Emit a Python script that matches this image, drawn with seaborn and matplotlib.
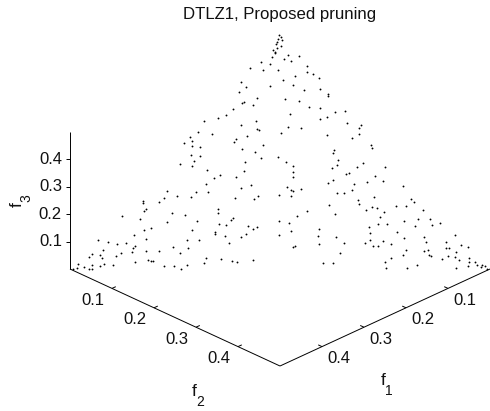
import numpy as np
import pandas as pd
import matplotlib
matplotlib.use('Agg')
import matplotlib.pyplot as plt
import seaborn as sns

f2_minus_f1 = [
    -.002, -.005, -.008, -.010, -.007, -.016, -.011, -.020, -.023, -.045, -.040, -.071, -.005, -.092, -.080, -.098,
    -.024, -.055, -.086, -.091, -.065, -.113, -.129, -.148, -.182, -.056, -.093, -.055, -.051, -.195, -.163, -.079,
    -.215, -.105,
    .002, .005, .002, -.011, .010, .020, .026, .045, .065, .065, .078, .093, .036, .007, .031, .058, .095, .114, .114,
    .012, .045, .070, .095, .024, .130, .154, .112, .095, .160, .192, .189, .020, .050, .002, .189, .113, .171,
    -.110, -.209, -.229, -.209, -.190, -.090, -.212, -.190, -.205, -.238, -.209, -.083, -.173, -.085, -.105, -.144,
    -.157, -.177, -.092, -.268, -.201, -.172, -.275, -.246, -.212, -.107, -.289, -.327, -.327, -.320, -.323, -.148,
    -.148, -.257, -.226, -.375, -.334, -.270, -.197, -.111, -.117, -.145, -.128, -.077, -.308, -.323, -.210, -.155,
    -.155, -.081, -.348, -.131, -.093, -.433, -.320, -.221, -.194, -.410, -.389, -.366, -.122, -.345, -.349, -.254,
    -.220, -.421, -.353, -.320, -.289, -.379, -.237, -.448, -.429, -.390, -.455, -.425, -.176, -.140, -.314, -.308,
    -.303, -.115, -.103, -.346, -.180, -.482, -.420, -.448, -.429, -.397, -.275, -.252, -.221, -.467, -.483, -.454,
    -.447, -.235, -.494,
    -.040, .217, .219, -.060, .129, .126, -.045, -.005, .138, .014, .136, .198, .032, .124, .184, .250, .031, .157,
    .164, .032, .226, .127, -.068, .115, .207, .245, .177, .293, .017, .027, .030, .050, .171, .136, .152, -.002,
    .027, -.052, -.061, .224, .312, .186, .319, .187, .117, .277, .300, .218, .231, .205, .340, .064, .248, .132,
    .040, .237, .328, .357, -.002, .021, .296, .382, .255, .233, .363, .321, -.055, -.064, .212, .094, .026, .279,
    .215, .416, -.002, .090, .133, .342, .295, .215, .245, .348, .395, .152, .203, .264, .094, .430, .036, .030,
    .222, .233, .395, .402, .448, .300, .352, .343, .142, .420, .355, .360, .293, .399, .417, .264, .450, .386,
    -.064, .426, .250, .449, .465, .470, .480, .487, .448, .102, .125, .326, .253, .302, .419, .478, .492,
]
f3 = [
    .499, .491, .484, .479, .472, .467, .462, .451, .438, .441, .424, .429, .425, .399, .387, .377,
    .390, .365, .356, .353, .350, .341, .328, .323, .315, .316, .308, .299, .296, .293, .288, .284,
    .281, .277,
    .495, .488, .475, .461, .448, .456, .443, .454, .432, .419, .416, .407, .412, .404, .392, .381, .384, .373, .369,
    .362, .359, .346, .343, .330, .334, .337, .325, .320, .312, .306, .300, .303, .301, .290, .288, .286, .279,
    .271, .273, .268, .263, .261, .256, .244, .242, .230, .224, .220, .228, .212, .208, .197, .200,
    .193, .182, .173, .166, .165, .164, .151, .156, .154, .152, .143, .146, .140, .129, .123, .129,
    .119, .119, .115, .113, .106, .100, .102, .109, .104, .096, .094, .092, .087, .084, .083, .078,
    .075, .075, .072, .070, .069, .062, .064, .061, .062, .058, .053, .055, .055, .049, .044, .046,
    .044, .041, .037, .038, .039, .034, .035, .033, .030, .027, .026, .023, .024, .021, .019, .018,
    .017, .018, .016, .015, .013, .011, .011, .009, .007, .009, .007, .006, .009, .004, .002, .001,
    .001, .000, .000,
    .264, .265, .259, .249, .253, .247, .237, .239, .232, .228, .222, .225, .220, .215, .217, .217, .206, .203,
    .204, .196, .199, .190, .179, .183, .186, .188, .181, .177, .174, .168, .167, .171, .168, .161, .163, .158,
    .156, .156, .149, .153, .149, .147, .142, .139, .136, .135, .134, .132, .130, .126, .126, .124, .121, .117,
    .112, .111, .107, .106, .102, .099, .102, .099, .097, .096, .093, .092, .090, .085, .090, .086, .082, .078,
    .077, .073, .072, .070, .068, .068, .066, .062, .060, .058, .058, .055, .056, .054, .053, .052, .050, .046,
    .050, .048, .045, .045, .047, .041, .041, .038, .035, .036, .030, .028, .029, .028, .025, .024, .024, .021,
    .020, .019, .016, .015, .015, .009, .009, .006, .007, .012, .013, .008, .003, .003, .003, .004, .000,
]
tick_values = [0.1, 0.2, 0.3, 0.4]
tick_labels = ['0.1', '0.2', '0.3', '0.4']
axis_max = 0.5
title = 'DTLZ1, Proposed pruning'

sns.set_style('white')
plt.rcParams['font.family'] = ['Liberation Sans', 'DejaVu Sans']


def project(a, b, c):
    # fixed oblique view, like the default matlab 3-d camera
    a, b, c = np.asarray(a, float), np.asarray(b, float), np.asarray(c, float)
    return b - a, c - 0.7055 * (a + b)


d = np.array(f2_minus_f1)
z = np.array(f3)
df = pd.DataFrame({'f1': (0.5 - z - d) / 2, 'f2': (0.5 - z + d) / 2, 'f3': z})
df['x'], df['y'] = project(df['f1'], df['f2'], df['f3'])

fig = plt.figure(figsize=(4.9, 4.11), dpi=100)
ax = fig.add_axes([0, 0, 1, 1])
ax.set_xlim(-280 / 420, 210 / 420)
ax.set_ylim(-239 / 275, 172 / 275)
ax.axis('off')

sns.scatterplot(data=df, x='x', y='y', s=1.8, color='black', linewidth=0, ax=ax, legend=False)


def draw3d(p, q, lw=0.7):
    x, y = project(*zip(p, q))
    ax.plot(x, y, color='black', lw=lw, solid_capstyle='butt')


def px_text(px, py, s, size, **kw):
    fig.text(px / 490, 1 - py / 411, s, ha='center', va='center', fontsize=size, color='#111111', **kw)


# box edges
draw3d((axis_max, 0, 0), (axis_max, axis_max, 0))
draw3d((0, axis_max, 0), (axis_max, axis_max, 0))
draw3d((axis_max, 0, 0), (axis_max, 0, axis_max))

tick_len = 0.009
label_size = 12
for v, lab in zip(tick_values, tick_labels):
    # f2 axis
    draw3d((axis_max, v, 0), (axis_max - tick_len, v, 0))
    x, y = project(axis_max, v, 0)
    ax.annotate(lab, (x, y), xytext=(-19, -12), textcoords='offset pixels', ha='center', va='center', fontsize=label_size, color='#111111')
    # f1 axis
    draw3d((v, axis_max, 0), (v, axis_max - tick_len, 0))
    x, y = project(v, axis_max, 0)
    ax.annotate(lab, (x, y), xytext=(17, -12), textcoords='offset pixels', ha='center', va='center', fontsize=label_size, color='#111111')
    # f3 axis
    draw3d((axis_max, 0, v), (axis_max + tick_len / 2, -tick_len / 2, v))
    x, y = project(axis_max, 0, v)
    ax.annotate(lab, (x, y), xytext=(-8, 0), textcoords='offset pixels', ha='right', va='center', fontsize=label_size, color='#111111')

px_text(280, 15, title, 12.1)
# axis names, subscripts as their own texts since the originals sit quite low
px_text(194.5, 391, 'f', 12.5)
px_text(200.5, 402, '2', 10)
px_text(383.5, 380, 'f', 12.5)
px_text(389, 390.5, '1', 10)
px_text(17, 205, 'f', 12.5, rotation=90)
px_text(26.5, 198.5, '3', 10, rotation=90)

fig.savefig('out.png', dpi=100)
